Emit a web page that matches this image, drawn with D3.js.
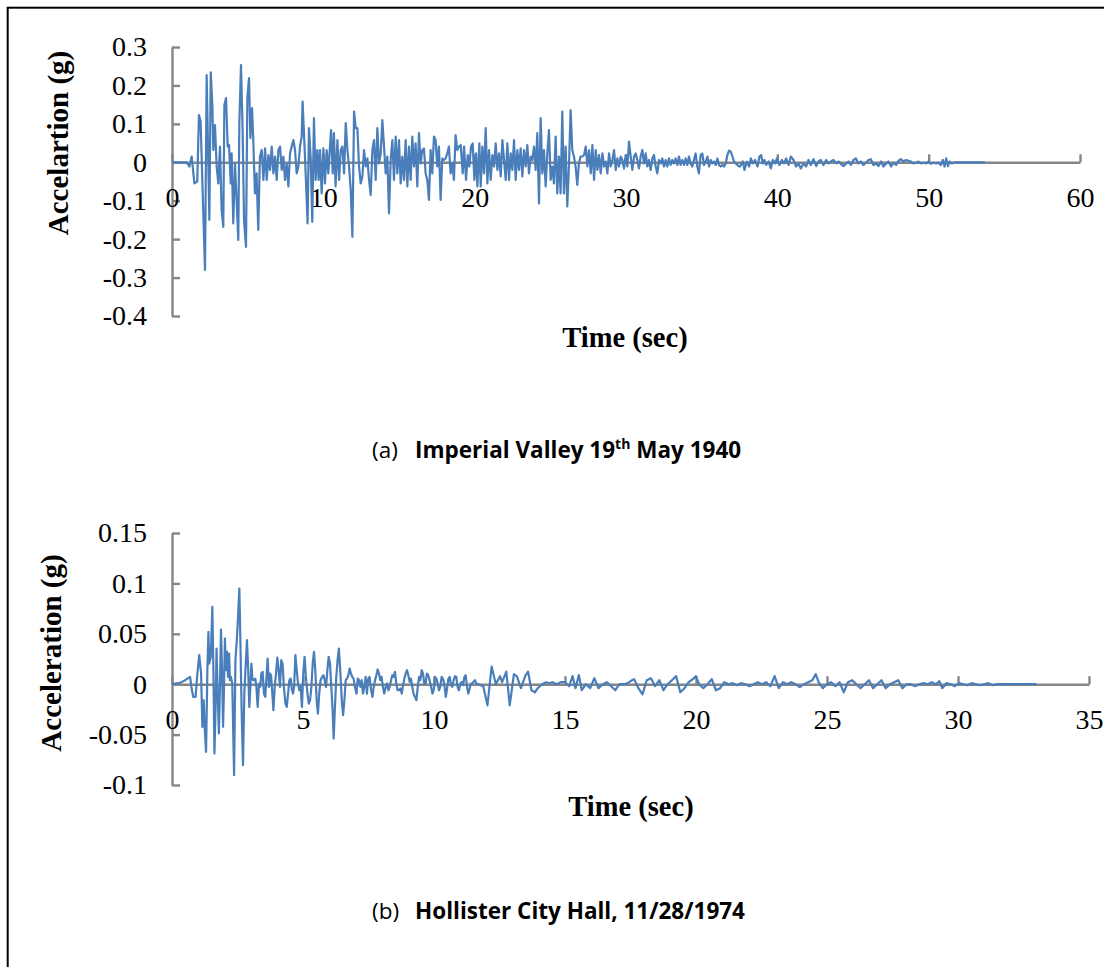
<!DOCTYPE html>
<html>
<head>
<meta charset="utf-8">
<script src="https://cdn.jsdelivr.net/npm/d3@7"></script>
<style>
  html, body { margin: 0; padding: 0; background: #ffffff; }
  svg { display: block; }
</style>
</head>
<body>
<svg id="fig" width="1104" height="967"></svg>
<script>
// Ground-motion records: [time (s), acceleration (g)]
const imperialValley = [
  [0,0],[0.97,0],[1.15,-0.011],[1.30,0.015],[1.48,-0.055],[1.67,-0.05],[1.78,0.123],[1.89,0.106],
  [2.18,-0.28],[2.29,0.227],[2.47,-0.15],[2.56,0.234],[2.67,0.145],[2.73,0.032],[2.84,0.097],[2.95,-0.011],
  [3.06,-0.055],[3.17,0.041],[3.28,-0.124],[3.39,-0.168],[3.46,0.149],[3.57,0.167],[3.68,0.041],[3.77,0.045],
  [3.88,-0.055],[3.94,0.023],[4.05,-0.159],[4.16,-0.003],[4.27,-0.098],[4.38,-0.202],[4.45,0.102],[4.56,0.253],
  [4.67,0.076],[4.76,-0.15],[4.89,-0.22],[4.98,0.167],[5.09,0.219],[5.18,0.063],[5.29,0.141],[5.37,0.058],
  [5.48,-0.081],[5.59,-0.029],[5.70,-0.176],[5.81,0.015],[5.93,0.032],[6.04,-0.046],[6.15,0.036],[6.26,-0.046],
  [6.37,0.019],[6.48,-0.02],[6.59,0.041],[6.70,-0.029],[6.81,0.015],[6.92,-0.046],[7.03,0.032],[7.14,0.041],
  [7.25,-0.02],[7.36,0.015],[7.47,-0.046],[7.58,-0.003],[7.69,-0.063],[7.80,0.023],[7.91,0.041],[8.02,0.058],
  [8.13,0.032],[8.24,-0.029],[8.35,-0.011],[8.46,0.041],[8.57,0.067],[8.63,0.158],[8.74,0.058],[8.85,-0.046],
  [8.96,-0.159],[9.05,0.089],[9.16,0.015],[9.27,-0.155],[9.38,0.115],[9.49,-0.046],[9.60,0.032],[9.69,-0.046],
  [9.78,0.032],[9.89,-0.081],[10.0,0.036],[10.11,-0.055],[10.22,0.032],[10.33,-0.029],[10.44,0.041],[10.51,0.084],
  [10.62,-0.029],[10.70,0.076],[10.81,-0.063],[10.93,0.058],[11.04,-0.046],[11.15,0.032],[11.26,0.041],[11.37,-0.029],
  [11.48,0.102],[11.59,0.032],[11.70,-0.011],[11.81,-0.072],[11.92,-0.194],[12.03,0.132],[12.14,0.089],[12.25,0.089],
  [12.36,-0.011],[12.47,-0.055],[12.58,-0.037],[12.69,0.032],[12.80,-0.011],[12.91,0.01],[13.02,-0.046],[13.13,-0.085],
  [13.24,0.032],[13.35,0.058],[13.46,-0.046],[13.57,0.089],[13.68,-0.003],[13.79,0.023],[13.90,0.11],[14.01,0.041],
  [14.12,-0.029],[14.23,0.015],[14.34,-0.133],[14.45,0.006],[14.56,0.058],[14.67,-0.046],[14.78,0.067],[14.89,-0.029],
  [15.0,0.058],[15.11,-0.055],[15.22,0.015],[15.33,-0.046],[15.44,0.058],[15.55,-0.063],[15.66,0.041],[15.77,-0.046],
  [15.88,0.067],[15.99,-0.011],[16.10,0.049],[16.21,-0.063],[16.32,0.076],[16.43,-0.003],[16.54,0.032],[16.65,0.036],
  [16.76,-0.029],[16.87,-0.046],[16.98,-0.098],[17.09,0.032],[17.20,-0.029],[17.31,0.067],[17.42,0.058],[17.53,-0.011],
  [17.64,0.041],[17.75,-0.098],[17.86,0.01],[17.97,0.006],[18.08,0.01],[18.19,0.023],[18.30,0.041],[18.41,-0.029],
  [18.52,-0.003],[18.63,-0.046],[18.74,0.071],[18.85,0.032],[18.96,0.041],[19.08,0.045],[19.21,-0.029],[19.30,0.041],
  [19.43,-0.046],[19.54,0.019],[19.65,-0.011],[19.76,0.041],[19.87,0.049],[19.98,-0.046],[20.09,0.023],[20.18,-0.063],
  [20.31,0.049],[20.40,-0.063],[20.51,0.041],[20.62,-0.029],[20.73,0.089],[20.84,-0.055],[20.95,0.032],[21.06,-0.046],
  [21.17,0.019],[21.28,-0.011],[21.39,0.049],[21.50,-0.02],[21.61,0.023],[21.72,-0.037],[21.83,0.058],[21.94,0.006],
  [22.05,-0.046],[22.16,0.049],[22.27,-0.046],[22.38,0.023],[22.49,-0.02],[22.60,0.058],[22.71,-0.046],[22.82,0.032],
  [22.93,-0.02],[23.04,0.036],[23.15,-0.037],[23.26,0.032],[23.37,-0.011],[23.48,0.045],[23.59,-0.029],[23.70,0.015],
  [23.81,0.006],[23.92,0.041],[24.03,-0.02],[24.14,0.076],[24.25,-0.107],[24.36,0.115],[24.47,-0.029],[24.58,0.032],
  [24.69,-0.063],[24.80,0.023],[24.91,0.084],[25.02,-0.046],[25.13,-0.011],[25.24,-0.055],[25.35,0.067],[25.46,-0.081],
  [25.57,0.015],[25.68,-0.081],[25.79,0.132],[25.90,-0.081],[26.01,0.041],[26.12,-0.115],[26.23,-0.011],[26.34,0.136],
  [26.45,0.032],[26.56,0.015],[26.67,-0.011],[26.78,-0.059],[26.89,-0.003],[27.0,0.015],[27.11,0.015],[27.23,0.019],
  [27.34,0.041],[27.45,-0.011],[27.56,0.032],[27.67,-0.029],[27.78,0.045],[27.89,-0.046],[28.0,0.032],[28.11,-0.02],
  [28.22,0.019],[28.33,-0.029],[28.44,0.023],[28.55,-0.011],[28.66,0.002],[28.77,-0.029],[28.88,0.023],[28.99,-0.011],
  [29.10,0.006],[29.21,0.032],[29.32,-0.02],[29.43,0.01],[29.54,-0.011],[29.65,0.015],[29.76,0.006],[29.87,-0.016],
  [29.98,0.019],[30.09,-0.011],[30.20,0.054],[30.31,0.015],[30.42,-0.02],[30.53,0.015],[30.64,0.023],[30.75,0.006],
  [30.86,-0.016],[30.97,0.015],[31.08,0.032],[31.19,-0.003],[31.30,0.023],[31.41,-0.011],[31.52,0.006],[31.63,-0.02],
  [31.74,0.01],[31.85,0.019],[31.96,-0.011],[32.07,-0.029],[32.18,0.006],[32.29,-0.003],[32.40,0.01],[32.51,-0.011],
  [32.62,0.006],[32.73,-0.011],[32.84,0.01],[32.95,-0.007],[33.06,0.006],[33.17,-0.003],[33.28,0.01],[33.39,-0.007],
  [33.50,0.015],[33.61,-0.007],[33.72,0.006],[33.83,-0.007],[33.94,0.01],[34.05,-0.007],[34.16,0.015],[34.27,-0.003],
  [34.38,-0.011],[34.49,0.006],[34.60,0.023],[34.71,-0.011],[34.82,-0.029],[34.93,0.019],[35.04,0.023],[35.15,-0.007],
  [35.27,0.002],[35.38,0.015],[35.49,-0.011],[35.60,0.006],[35.71,-0.003],[35.82,0.002],[35.93,-0.007],[36.04,0.01],
  [36.15,-0.007],[36.26,-0.011],[36.37,-0.007],[36.48,-0.011],[36.59,-0.003],[36.70,0.019],[36.81,0.030],[36.92,0.028],
  [37.03,0.015],[37.14,0.002],[37.25,-0.003],[37.36,-0.007],[37.47,-0.011],[37.54,-0.011],[37.72,0.002],[37.83,-0.020],
  [37.98,0.002],[38.14,-0.011],[38.25,0.010],[38.38,-0.003],[38.53,0.006],[38.69,-0.011],[38.82,0.015],[38.93,0.019],
  [39.04,-0.003],[39.15,0.006],[39.26,-0.007],[39.42,0.002],[39.57,-0.016],[39.70,0.006],[39.86,-0.003],[39.97,0.010],
  [40.14,-0.007],[40.30,0.006],[40.45,-0.003],[40.58,0.010],[40.74,-0.007],[40.89,0.015],[41.07,0.006],[41.24,-0.011],
  [41.40,-0.003],[41.55,-0.016],[41.73,-0.003],[41.90,-0.011],[42.06,0.006],[42.21,-0.007],[42.39,0.008],[42.57,-0.010],
  [42.72,0.002],[42.87,0.006],[43.05,-0.007],[43.23,0.006],[43.38,-0.003],[43.53,0.002],[43.71,0.006],[43.89,-0.003],
  [44.04,0.002],[44.20,-0.004],[44.37,-0.010],[44.55,-0.003],[44.70,0.002],[44.86,-0.007],[45.03,0.006],[45.19,0.010],
  [45.36,-0.003],[45.52,0.002],[45.69,-0.007],[45.87,-0.001],[46.02,0.006],[46.18,0.008],[46.35,-0.007],[46.53,-0.003],
  [46.68,-0.010],[46.86,0.002],[47.01,-0.011],[47.19,-0.003],[47.34,0.002],[47.52,-0.011],[47.68,-0.001],[47.85,-0.007],
  [48.01,0.004],[48.16,0.008],[48.34,0.002],[48.51,0.006],[48.67,0.004],[48.82,0.002],[49.00,-0.003],[49.17,-0.001],
  [49.33,0.002],[49.48,-0.003],[49.66,-0.001],[49.83,-0.003],[49.99,0.002],[50.14,-0.004],[50.32,-0.001],[50.49,-0.003],
  [50.65,-0.001],[50.80,-0.007],[50.94,0.006],[51.05,-0.011],[51.16,0.010],[51.27,-0.010],[51.38,0.002],[51.53,-0.003],
  [51.75,0],[53.73,0]
];

const hollister = [
  [0,0],[0.31,0.0013],[0.50,0.004],[0.69,0.0073],[0.75,-0.0043],[0.81,-0.0126],[0.90,-0.0126],[0.97,0.0106],
  [1.04,0.0288],[1.11,0.0106],[1.16,-0.0423],[1.21,-0.0159],[1.25,-0.044],[1.30,-0.0671],[1.35,0.0139],[1.39,0.0519],
  [1.42,0.0205],[1.48,0.0271],[1.54,0.0767],[1.58,0.0139],[1.62,-0.0688],[1.67,-0.0159],[1.70,0.0354],[1.74,-0.006],
  [1.79,-0.0489],[1.83,-0.0026],[1.87,0.0542],[1.91,0.0139],[1.95,-0.0423],[1.98,-0.0093],[2.02,0.0453],[2.06,0.0139],
  [2.10,0.0321],[2.14,0.0073],[2.18,0.0304],[2.21,0.004],[2.25,0.0073],[2.30,0.0007],[2.37,-0.0903],[2.42,0.0238],
  [2.47,0.042],[2.52,0.0668],[2.57,0.0949],[2.61,0.0437],[2.66,-0.0291],[2.71,-0.0804],[2.76,-0.0093],[2.81,0.0172],
  [2.86,0.0437],[2.91,0.0139],[2.95,-0.0225],[2.99,-0.0026],[3.03,0.0205],[3.07,0.0056],[3.10,0.004],[3.14,0.004],
  [3.18,0.0056],[3.22,-0.0026],[3.27,-0.0225],[3.32,0.0007],[3.37,-0.0026],[3.41,0.0106],[3.46,0.0122],[3.51,-0.0093],
  [3.56,-0.0126],[3.61,0.0089],[3.65,0.0255],[3.70,-0.0026],[3.74,0.0106],[3.78,0.0089],[3.83,-0.0093],[3.87,-0.0258],
  [3.92,-0.0026],[3.97,0.0106],[4.02,0.0265],[4.07,0.0139],[4.12,-0.0026],[4.17,0.0238],[4.22,0.0205],[4.27,-0.0026],
  [4.33,-0.0192],[4.38,-0.0225],[4.43,-0.0093],[4.48,0.004],[4.53,0.0056],[4.58,-0.006],[4.62,-0.0093],[4.66,-0.0026],
  [4.71,0.0288],[4.76,0.0139],[4.81,0.0007],[4.86,-0.006],[4.91,-0.0026],[4.96,-0.0225],[5.01,0.0106],[5.06,0.0271],
  [5.11,0.0073],[5.17,-0.0093],[5.22,-0.0192],[5.27,-0.0159],[5.32,-0.0026],[5.37,0.0205],[5.42,0.0321],[5.47,0.0139],
  [5.52,-0.0159],[5.57,-0.0291],[5.62,-0.0093],[5.67,0.004],[5.73,0.0073],[5.78,0.0089],[5.83,0.004],[5.88,-0.0026],
  [5.93,0.0139],[5.98,0.0271],[6.03,0.0205],[6.08,-0.0026],[6.13,-0.0258],[6.17,-0.0539],[6.22,-0.0225],[6.27,0.0073],
  [6.32,0.0238],[6.37,0.0354],[6.42,0.0139],[6.48,-0.0159],[6.53,-0.0308],[6.58,-0.0159],[6.63,0.004],[6.68,0.0056],
  [6.73,0.0089],[6.78,0.0155],[6.83,0.0106],[6.88,0.0073],[6.93,0.0056],[6.98,-0.0026],[7.04,-0.0093],[7.09,0.0056],
  [7.14,0.004],[7.19,-0.0026],[7.24,0.004],[7.29,-0.0093],[7.34,-0.0026],[7.39,0.0073],[7.44,-0.0093],[7.49,0.0056],
  [7.54,0.0073],[7.60,-0.006],[7.65,-0.0126],[7.70,-0.0026],[7.75,0.004],[7.80,0.0089],[7.85,0.0146],[7.90,0.0106],
  [7.95,0.004],[8.00,0.0073],[8.05,-0.0026],[8.10,-0.0093],[8.16,-0.0026],[8.21,0.0007],[8.26,-0.006],[8.31,-0.0026],
  [8.36,0.004],[8.41,0.0089],[8.46,0.0073],[8.51,0.0122],[8.56,0.0007],[8.61,-0.006],[8.66,-0.006],[8.72,-0.0043],
  [8.77,-0.0093],[8.82,-0.001],[8.87,0.0056],[8.92,0.0106],[8.97,0.0139],[9.02,0.0089],[9.07,0.0023],[9.12,0.0056],
  [9.17,-0.0026],[9.22,-0.0093],[9.27,-0.0126],[9.33,-0.0159],[9.38,-0.0026],[9.43,0.0073],[9.48,0.004],[9.53,0.0139],
  [9.58,0.0106],[9.63,0.0007],[9.68,0.0007],[9.73,0.0106],[9.78,0.0089],[9.83,0.004],[9.89,-0.0026],[9.94,-0.0093],
  [9.99,-0.006],[10.04,0.0073],[10.09,0.0056],[10.14,0.0007],[10.19,-0.006],[10.24,-0.0026],[10.29,0.0073],[10.34,0.0056],
  [10.39,0.0007],[10.45,-0.0126],[10.50,-0.0043],[10.55,0.0056],[10.60,0.0073],[10.65,-0.001],[10.70,-0.0026],[10.75,0.004],
  [10.80,0.0079],[10.85,0.0073],[10.90,-0.0026],[10.95,-0.006],[11.01,0.0007],[11.06,0.0023],[11.11,-0.001],[11.16,0.0073],
  [11.21,0.0089],[11.26,-0.0026],[11.31,-0.0093],[11.36,-0.0043],[11.41,0.0007],[11.46,0.0007],[11.51,0.0023],[11.56,0.004],
  [11.62,0.0007],[11.88,-0.002],[12.04,-0.021],[12.20,0.0175],[12.36,0],[12.52,0.008],[12.60,0.002],[12.76,0.0125],
  [12.89,-0.021],[13.05,0.010],[13.16,0.008],[13.32,-0.004],[13.48,0.008],[13.59,0.0125],[13.72,-0.006],[13.85,-0.008],
  [13.96,-0.004],[14.12,0],[14.28,0.002],[14.39,0.001],[14.52,0.002],[14.68,0],[14.84,0.002],[15.0,0.002],
  [15.16,-0.002],[15.29,0.008],[15.40,-0.004],[15.53,0.009],[15.64,-0.006],[15.80,0],[15.96,-0.004],[16.12,0.006],
  [16.28,-0.004],[16.44,0],[16.60,0.002],[16.76,-0.002],[16.92,-0.006],[17.08,0],[17.24,0],[17.40,0.001],
  [17.56,0.004],[17.64,0.005],[17.80,-0.004],[17.96,-0.010],[18.12,0.004],[18.28,0.006],[18.44,-0.002],[18.60,0.004],
  [18.76,-0.006],[18.92,0],[19.08,0.004],[19.24,0.008],[19.40,-0.008],[19.56,-0.004],[19.72,0.002],[19.88,0.005],
  [19.99,0.008],[20.12,0],[20.28,-0.004],[20.44,0],[20.60,0.005],[20.76,-0.006],[20.92,-0.004],[21.08,0.002],
  [21.24,0],[21.40,0.001],[21.56,-0.001],[21.72,0.001],[21.88,0],[22.04,-0.002],[22.20,0],[22.36,0.002],
  [22.52,0],[22.68,0.002],[22.84,-0.002],[23.00,0.008],[23.16,-0.004],[23.32,0.002],[23.48,0],[23.64,0.002],
  [23.80,0],[23.96,-0.003],[24.12,0],[24.28,0.002],[24.44,0.004],[24.57,0.010],[24.68,0.002],[24.84,-0.004],
  [25.00,0],[25.16,0.002],[25.32,-0.002],[25.48,0.002],[25.64,-0.008],[25.80,0.002],[25.96,0.004],[26.12,0],
  [26.28,-0.004],[26.44,0],[26.60,0.004],[26.76,-0.004],[26.92,0],[27.08,0.004],[27.24,-0.004],[27.40,0],
  [27.56,0.002],[27.72,0.004],[27.88,-0.004],[28.04,0],[28.20,0],[28.36,-0.002],[28.52,0],[28.68,0.001],
  [28.84,0],[29.00,0.002],[29.16,0],[29.29,0.003],[29.40,-0.004],[29.56,0.001],[29.72,0],[29.88,-0.002],
  [30.04,0.001],[30.20,0],[30.36,-0.001],[30.52,0.001],[30.68,0],[30.84,-0.001],[31.00,0],[31.16,0.001],
  [31.32,-0.001],[31.48,0],[33.0,0]
];

// Axis ticks and their printed labels
const timeTicksA   = [0, 10, 20, 30, 40, 50, 60];
const accelTicksA  = [-0.4, -0.3, -0.2, -0.1, 0, 0.1, 0.2, 0.3];
const accelLabelsA = ["-0.4", "-0.3", "-0.2", "-0.1", "0", "0.1", "0.2", "0.3"];
const timeTicksB   = [0, 5, 10, 15, 20, 25, 30, 35];
const accelTicksB  = [-0.1, -0.05, 0, 0.05, 0.1, 0.15];
const accelLabelsB = ["-0.1", "-0.05", "0", "0.05", "0.1", "0.15"];

const AXIS_GREY = "#868686";
const LINE_BLUE = "#4a7ebb";
const SERIF = "'Liberation Serif', 'Times New Roman', serif";
const SANS = "'Open Sans', 'Noto Sans', sans-serif";

const svg = d3.select("#fig");

// outer frame (right and bottom edges run off the page)
svg.append("rect")
  .attr("x", 7.7).attr("y", 7.7)
  .attr("width", 1200).attr("height", 1100)
  .attr("fill", "none").attr("stroke", "#000").attr("stroke-width", 2);

function styleAxis(g) {
  g.attr("font-family", SERIF).attr("font-size", 28);
  g.select(".domain").attr("stroke", AXIS_GREY).attr("stroke-width", 2.4);
  g.selectAll(".tick line").attr("stroke", AXIS_GREY).attr("stroke-width", 2.4);
  g.selectAll(".tick text").attr("fill", "#000");
}

function drawPanel(p) {
  const x = d3.scaleLinear().domain(p.xDomain).range(p.xRange);
  const y = d3.scaleLinear().domain(p.yDomain).range(p.yRange);
  const g = svg.append("g");

  const yAxis = d3.axisLeft(y)
    .tickValues(p.yTicks)
    .tickFormat((d, i) => p.yLabels[i])
    .tickSize(-8).tickSizeOuter(0).tickPadding(25);
  g.append("g").attr("transform", `translate(${p.xRange[0]},0)`).call(yAxis).call(styleAxis);

  const xAxis = d3.axisBottom(x)
    .tickValues(p.xTicks)
    .tickFormat(d3.format("d"))
    .tickSize(-8).tickSizeOuter(0).tickPadding(25);
  g.append("g").attr("transform", `translate(0,${y(0)})`).call(xAxis).call(styleAxis);

  // axis titles
  g.append("text")
    .attr("transform", `translate(${p.yTitlePos[0]},${p.yTitlePos[1]}) rotate(-90)`)
    .attr("text-anchor", "middle")
    .attr("font-family", SERIF).attr("font-weight", "bold").attr("font-size", 29)
    .text(p.yTitle);
  g.append("text")
    .attr("x", p.xTitlePos[0]).attr("y", p.xTitlePos[1])
    .attr("text-anchor", "middle")
    .attr("font-family", SERIF).attr("font-weight", "bold").attr("font-size", 28.5)
    .text("Time (sec)");

  // acceleration trace
  const line = d3.line().x(d => x(d[0])).y(d => y(d[1]));
  g.append("path")
    .datum(p.data)
    .attr("d", line)
    .attr("fill", "none")
    .attr("stroke", LINE_BLUE)
    .attr("stroke-width", 2.2)
    .attr("stroke-linejoin", "round");

  // caption: regular tag, bold description with optional superscript
  const cap = g.append("text")
    .attr("y", p.captionY)
    .attr("font-family", SANS).attr("font-size", 22.5).attr("fill", "#000");
  cap.append("tspan").attr("x", 372).text(p.captionTag);
  let first = true;
  let raised = false;
  p.captionParts.forEach(part => {
    const t = cap.append("tspan").attr("font-weight", "bold").text(part.text);
    if (first) { t.attr("x", 415); first = false; }
    if (part.sup) {
      t.attr("font-size", 14).attr("dy", -9);
      raised = true;
    } else if (raised) {
      t.attr("dy", 9);
      raised = false;
    }
  });
}

drawPanel({
  data: imperialValley,
  xDomain: [0, 60], xRange: [172, 1080],
  yDomain: [-0.4, 0.3], yRange: [316, 47],
  xTicks: timeTicksA, yTicks: accelTicksA, yLabels: accelLabelsA,
  yTitle: "Accelartion (g)", yTitlePos: [68, 143],
  xTitlePos: [625, 347],
  captionY: 458, captionTag: "(a)",
  captionParts: [{text: "Imperial Valley 19"}, {text: "th", sup: true}, {text: " May 1940"}]
});

drawPanel({
  data: hollister,
  xDomain: [0, 35], xRange: [172, 1089],
  yDomain: [-0.1, 0.15], yRange: [785, 533],
  xTicks: timeTicksB, yTicks: accelTicksB, yLabels: accelLabelsB,
  yTitle: "Acceleration (g)", yTitlePos: [61, 653],
  xTitlePos: [631, 816],
  captionY: 919, captionTag: "(b)",
  captionParts: [{text: "Hollister City Hall, 11/28/1974"}]
});
</script>
</body>
</html>
